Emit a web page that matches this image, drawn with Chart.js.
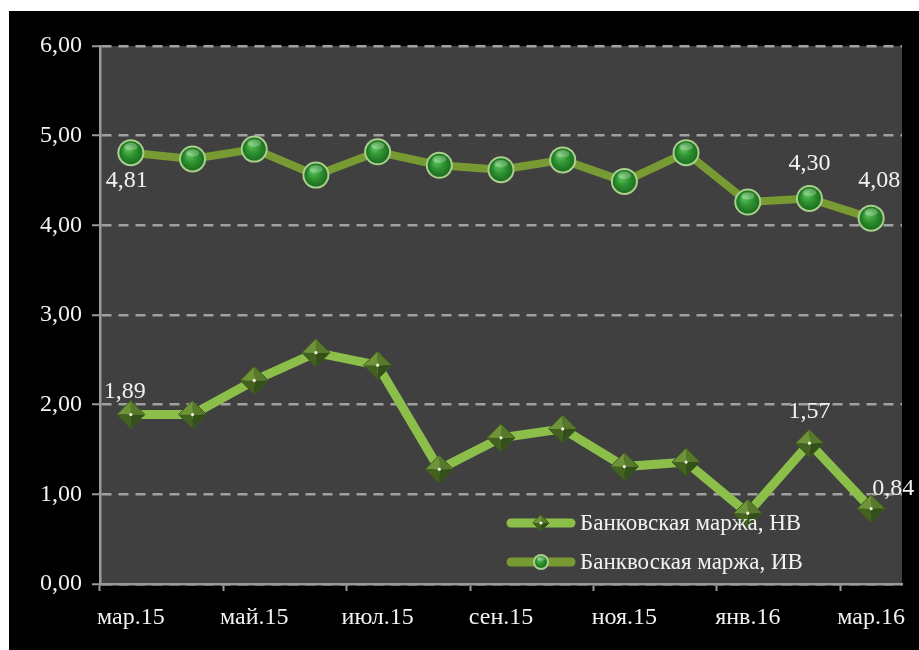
<!DOCTYPE html>
<html>
<head>
<meta charset="utf-8">
<script src="https://cdn.jsdelivr.net/npm/chart.js@4/dist/chart.umd.min.js"></script>
<style>
  html, body { margin: 0; padding: 0; background: #ffffff; width: 919px; height: 650px; overflow: hidden; }
  #wrap { position: absolute; left: 9px; top: 11px; width: 910px; height: 639px; background: #000000; }
  canvas { display: block; }
</style>
</head>
<body>
<div id="wrap"><canvas id="c" width="910" height="639"></canvas></div>
<script>
// ---- data ----
const categories = ['мар.15','апр.15','май.15','июн.15','июл.15','авг.15','сен.15','окт.15','ноя.15','дек.15','янв.16','фев.16','мар.16'];
const marginNV = [1.89, 1.89, 2.27, 2.58, 2.44, 1.28, 1.63, 1.73, 1.31, 1.36, 0.79, 1.57, 0.84];
const marginIV = [4.81, 4.74, 4.85, 4.56, 4.82, 4.67, 4.62, 4.73, 4.49, 4.81, 4.26, 4.30, 4.08];
const seriesNames = ['Банковская маржа, НВ', 'Банквоская маржа, ИВ'];
const labelledIndices = [0, 11, 12];
const yTicks = [0, 1, 2, 3, 4, 5, 6];

const SERIF = "'Liberation Serif', 'Times New Roman', serif";
const fmt = v => v.toFixed(2).replace('.', ',');

const plotBg = {
  id: 'plotBg',
  beforeDraw(chart) {
    const {ctx, chartArea: a} = chart;
    ctx.save();
    ctx.fillStyle = '#404040';
    ctx.fillRect(a.left, a.top, a.right - a.left, a.bottom - a.top);
    ctx.restore();
  }
};

function drawDiamond(ctx, x, y, r) {
  const T = [x, y - r], R = [x + r, y], B = [x, y + r], L = [x - r, y], C = [x, y];
  const facets = [[T, C, L, '#6f9338'], [T, R, C, '#58792b'], [R, B, C, '#33501a'], [B, L, C, '#44621f']];
  facets.forEach(f => {
    ctx.beginPath();
    ctx.moveTo(f[0][0], f[0][1]); ctx.lineTo(f[1][0], f[1][1]); ctx.lineTo(f[2][0], f[2][1]);
    ctx.closePath();
    ctx.fillStyle = f[3];
    ctx.fill();
  });
  ctx.beginPath();
  ctx.moveTo(T[0], T[1]); ctx.lineTo(R[0], R[1]); ctx.lineTo(B[0], B[1]); ctx.lineTo(L[0], L[1]); ctx.closePath();
  ctx.strokeStyle = '#3c5a1c'; ctx.lineWidth = 1; ctx.stroke();
  ctx.beginPath(); ctx.arc(x, y, 1.6, 0, Math.PI * 2); ctx.fillStyle = '#f0f0e0'; ctx.fill();
}

function drawBall(ctx, x, y, r) {
  ctx.beginPath(); ctx.arc(x, y, r, 0, Math.PI * 2);
  ctx.fillStyle = '#a9d08c'; ctx.fill();
  const g = ctx.createRadialGradient(x - r * 0.25, y - r * 0.35, 1, x, y, r - 2);
  g.addColorStop(0, '#5fc25f');
  g.addColorStop(0.5, '#2f9431');
  g.addColorStop(1, '#1c6e20');
  ctx.beginPath(); ctx.arc(x, y, r - 2, 0, Math.PI * 2);
  ctx.fillStyle = g; ctx.fill();
  ctx.beginPath(); ctx.ellipse(x, y - r * 0.45, r * 0.5, r * 0.28, 0, 0, Math.PI * 2);
  ctx.fillStyle = 'rgba(255,255,255,0.25)'; ctx.fill();
}

const markers = {
  id: 'markers',
  afterDatasetsDraw(chart) {
    const ctx = chart.ctx;
    ctx.save();
    chart.getDatasetMeta(0).data.forEach(p => drawDiamond(ctx, p.x, p.y, 14));
    chart.getDatasetMeta(1).data.forEach(p => drawBall(ctx, p.x, p.y, 13.5));
    ctx.restore();
  }
};

const labelOffsets = [
  {0: [-6, -23], 11: [0, -32], 12: [22, -20]},
  {0: [-4, 28], 11: [0, -35], 12: [8, -37]}
];

const valueLabels = {
  id: 'valueLabels',
  afterDatasetsDraw(chart) {
    const ctx = chart.ctx;
    ctx.save();
    ctx.font = '24px ' + SERIF;
    ctx.fillStyle = '#f2f2f2';
    ctx.textAlign = 'center';
    ctx.textBaseline = 'middle';
    chart.data.datasets.forEach((ds, di) => {
      const meta = chart.getDatasetMeta(di);
      labelledIndices.forEach(i => {
        const p = meta.data[i];
        const o = labelOffsets[di][i];
        ctx.fillText(fmt(ds.data[i]), p.x + o[0], p.y + o[1]);
      });
    });
    ctx.restore();
  }
};

const innerLegend = {
  id: 'innerLegend',
  afterDraw(chart) {
    const {ctx, chartArea: a} = chart;
    ctx.save();
    chart.data.datasets.forEach((ds, i) => {
      const y = a.bottom - 61 + i * 39;
      const x0 = a.right - 395, x1 = x0 + 68;
      ctx.beginPath();
      ctx.moveTo(x0 + 4, y); ctx.lineTo(x1 - 4, y);
      ctx.lineCap = 'round';
      ctx.lineWidth = 9;
      ctx.strokeStyle = ds.borderColor;
      ctx.stroke();
      const cx = (x0 + x1) / 2;
      if (i === 0) drawDiamond(ctx, cx, y, 8); else drawBall(ctx, cx, y, 8);
      ctx.font = '23px ' + SERIF;
      ctx.fillStyle = '#f2f2f2';
      ctx.textAlign = 'left';
      ctx.textBaseline = 'middle';
      ctx.fillText(ds.label, x1 + 5, y + 1);
    });
    ctx.restore();
  }
};

new Chart(document.getElementById('c'), {
  type: 'line',
  data: {
    labels: categories,
    datasets: [
      {
        label: seriesNames[0],
        data: marginNV,
        borderColor: '#8cbf4a',
        borderWidth: 9,
        pointRadius: 0,
        tension: 0
      },
      {
        label: seriesNames[1],
        data: marginIV,
        borderColor: '#789a33',
        borderWidth: 8,
        pointRadius: 0,
        tension: 0
      }
    ]
  },
  options: {
    responsive: false,
    animation: false,
    layout: { padding: { left: 0, top: 35, right: 17, bottom: 0 } },
    plugins: {
      legend: { display: false },
      tooltip: { enabled: false },
      title: { display: false }
    },
    scales: {
      x: {
        offset: true,
        afterFit(s) { s.height = 66; },
        grid: {
          offset: true,
          drawOnChartArea: false,
          drawTicks: true,
          tickLength: 7,
          tickWidth: 2,
          tickColor: c => (c.index % 2 === 0 ? '#9a9a9a' : 'rgba(0,0,0,0)')
        },
        border: { display: true, color: '#9a9a9a', width: 2.5 },
        ticks: {
          autoSkip: false,
          maxRotation: 0,
          color: '#f2f2f2',
          padding: 12,
          font: { family: SERIF, size: 24 },
          callback: (v, i) => (i % 2 === 0 ? categories[i] : '')
        }
      },
      y: {
        min: yTicks[0],
        max: yTicks[yTicks.length - 1],
        afterFit(s) { s.width = 91; },
        afterBuildTicks(s) { s.ticks = yTicks.map(v => ({ value: v })); },
        grid: {
          color: '#a0a0a0',
          lineWidth: 2.5,
          drawTicks: true,
          tickLength: 8,
          tickColor: '#9a9a9a',
          tickWidth: 2
        },
        border: { display: true, color: '#9a9a9a', width: 2.5, dash: [10, 7] },
        ticks: {
          color: '#f2f2f2',
          padding: 10,
          font: { family: SERIF, size: 24 },
          callback: v => fmt(v)
        }
      }
    }
  },
  plugins: [plotBg, markers, valueLabels, innerLegend]
});
</script>
</body>
</html>
